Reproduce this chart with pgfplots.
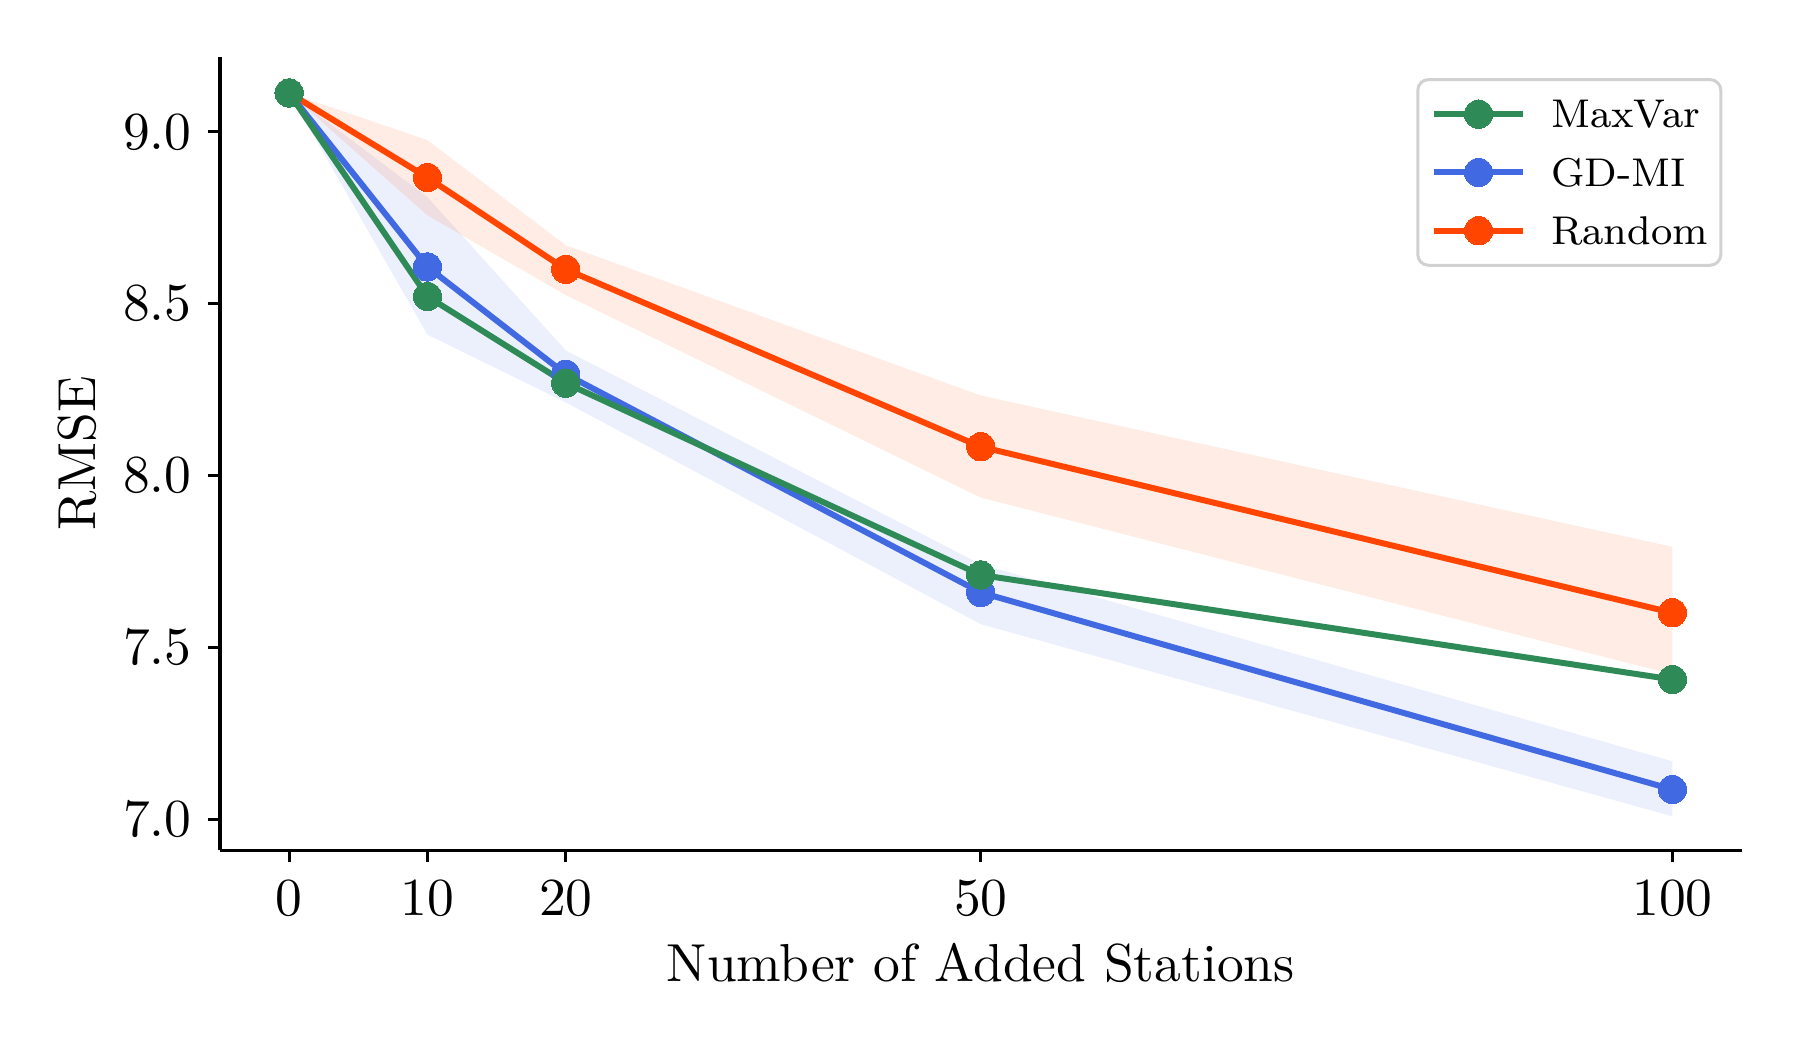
\documentclass[border=0pt]{standalone}
\usepackage{pgfplots}
\pgfplotsset{compat=1.18}
\usepgfplotslibrary{fillbetween}
\definecolor{seagreen}{HTML}{2E8B57}
\definecolor{royalblue}{HTML}{4169E1}
\definecolor{orangered}{HTML}{FF4500}
\begin{document}
\begin{tikzpicture}
\begin{axis}[
  name=ax, at={(0,0)}, anchor=south west,
  scale only axis, width=284.4pt, height=148.3pt,
  xmin=-5, xmax=105, ymin=6.9106, ymax=9.2185,
  axis lines*=left, axis line style={line width=0.6pt, -},
  tick align=outside, major tick length=2.3pt,
  tick style={line width=0.6pt, black},
  xtick={0,10,20,50,100},
  ytick={7,7.5,8,8.5,9},
  yticklabel style={/pgf/number format/fixed, /pgf/number format/precision=1, /pgf/number format/fixed zerofill, xshift=0.5pt},
  tick label style={font=\fontsize{10}{12}\selectfont},
  xlabel={Number of Added Stations}, ylabel={RMSE},
  label style={font=\fontsize{10}{12}\selectfont},
  xlabel style={at={(axis description cs:0.5,0)}, anchor=center, yshift=-21pt},
  ylabel style={at={(axis description cs:-0.0939,0.5)}, anchor=center},
  reverse legend,
  legend image code/.code={
    \draw[mark repeat=2, mark phase=2] plot coordinates {(0pt,0pt) (8.4pt,0pt) (16.8pt,0pt)};
  },
  legend style={at={(axis description cs:1,1)}, anchor=north east, xshift=-3.6pt, yshift=-4pt,
    draw=black!18, line width=0.56pt, rounded corners=2pt, fill=white,
    font=\fontsize{7.5}{9}\selectfont, inner xsep=2.4pt, inner ysep=3.8pt,
    row sep=5.6pt, column sep=4.6pt,
    nodes={inner sep=0pt, text height=5.12pt, text depth=0pt}},
  legend cell align=left,
]
% bands
\addplot[name path=gu, draw=none, forget plot] coordinates {(0,9.113) (10,8.81) (20,8.364) (50,7.742) (100,7.169)};
\addplot[name path=gl, draw=none, forget plot] coordinates {(0,9.113) (10,8.41) (20,8.213) (50,7.568) (100,7.009)};
\addplot[fill=royalblue, fill opacity=0.1, draw=none, forget plot] fill between[of=gu and gl];
\addplot[name path=ru, draw=none, forget plot] coordinates {(0,9.113) (10,8.976) (20,8.67) (50,8.233) (100,7.793)};
\addplot[name path=rl, draw=none, forget plot] coordinates {(0,9.113) (10,8.757) (20,8.525) (50,7.936) (100,7.422)};
\addplot[fill=orangered, fill opacity=0.1, draw=none, forget plot] fill between[of=ru and rl];
% lines
\addplot[orangered, line width=1.12pt, mark=*, mark size=2.65pt, mark options={solid, fill=orangered, draw=orangered, line width=0pt}]
  coordinates {(0,9.113) (10,8.867) (20,8.600) (50,8.084) (100,7.601)};
\addlegendentry{Random}
\addplot[royalblue, line width=1.12pt, mark=*, mark size=2.65pt, mark options={solid, fill=royalblue, draw=royalblue, line width=0pt}]
  coordinates {(0,9.113) (10,8.607) (20,8.295) (50,7.660) (100,7.087)};
\addlegendentry{GD-MI}
\addplot[seagreen, line width=1.12pt, mark=*, mark size=2.65pt, mark options={solid, fill=seagreen, draw=seagreen, line width=0pt}]
  coordinates {(0,9.113) (10,8.521) (20,8.269) (50,7.711) (100,7.407)};
\addlegendentry{MaxVar}
\end{axis}
\pgfresetboundingbox
\path[use as bounding box] (-41.12pt,-37.38pt) rectangle (295.33pt,158.9pt);
\end{tikzpicture}
\end{document}
